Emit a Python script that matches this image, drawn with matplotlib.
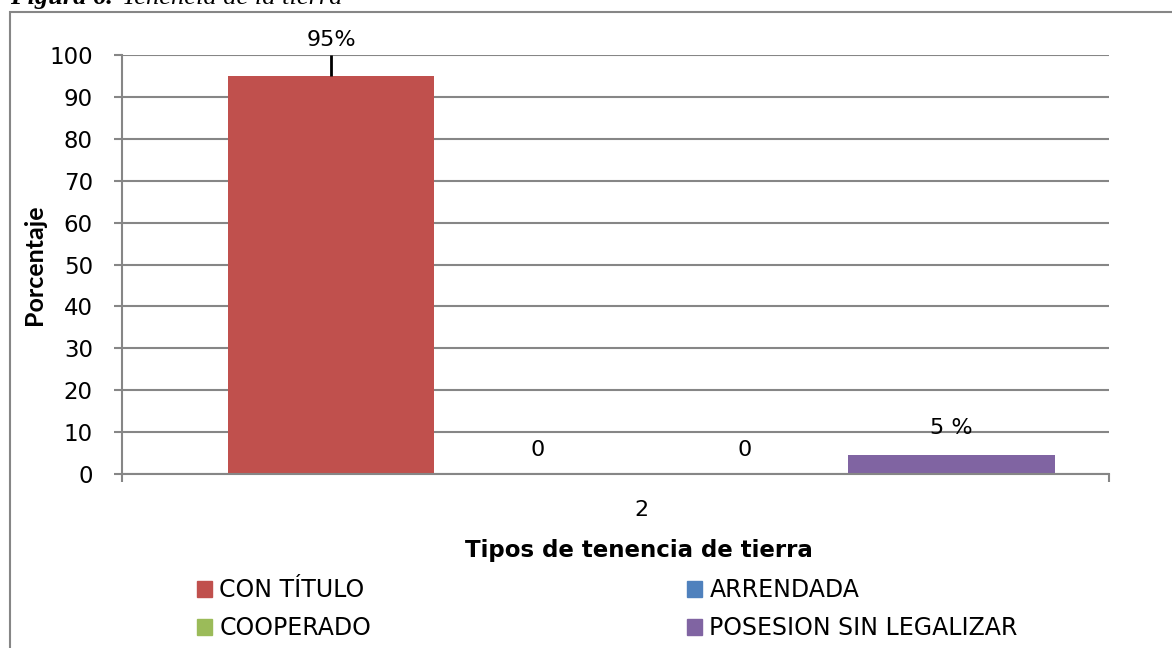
import matplotlib
matplotlib.use("Agg")
import matplotlib.pyplot as plt
from matplotlib.patches import Rectangle, Patch

categorias = ["CON TÍTULO", "ARRENDADA", "COOPERADO", "POSESION SIN LEGALIZAR"]
valores = [95, 0, 0, 4.5]
etiquetas = ["95%", "0", "0", "5 %"]
error_sup = [5, 0, 0, 0]
colores = ["#C0504D", "#4F81BD", "#9BBB59", "#8064A2"]
grupo = "2"

plt.rcParams["font.family"] = ["DejaVu Sans"]
gris = "#868686"
fs = 16

fig = plt.figure(figsize=(11.72, 6.48), dpi=100)

# marco del grafico
fig.patches.append(Rectangle((10 / 1172, -0.1), 1.2, 1 - 12 / 648 + 0.1,
                             transform=fig.transFigure, fill=False,
                             edgecolor=gris, linewidth=1.5))
fig.text(10 / 1172, 1 - 4 / 648, "Figura 6.", family="Liberation Serif",
         style="italic", weight="bold", fontsize=19, va="baseline")
fig.text(122 / 1172, 1 - 4 / 648, "Tenencia de la tierra", family="Liberation Serif",
         style="italic", fontsize=19, va="baseline")

ax = fig.add_axes([122 / 1172, 1 - 474 / 648, 987 / 1172, 419 / 648])
ancho = 0.2095
n = len(categorias)
for i, (cat, v, c) in enumerate(zip(categorias, valores, colores)):
    x = (i - (n - 1) / 2) * ancho
    ax.bar(x, v, width=ancho, color=c, zorder=2)
    if error_sup[i] > 0:
        ax.errorbar(x, v, yerr=[[0], [error_sup[i]]], fmt="none",
                    ecolor="black", elinewidth=2, capsize=0, zorder=3)
    top = v + error_sup[i]
    off = 15 if error_sup[i] > 0 else (24 if v == 0 else 27)
    ax.annotate(etiquetas[i], (x, top), xytext=(0, off), textcoords="offset pixels",
                ha="center", va="center", fontsize=fs)

xmin, xmax = -0.526, 0.474
ax.set_xlim(xmin, xmax)
ax.set_ylim(0, 100)
ax.set_yticks(range(0, 101, 10))
ax.yaxis.grid(True, color=gris, linewidth=1.5)
ax.set_axisbelow(True)
ax.set_xticks([xmin, xmax])
ax.set_xticklabels(["", ""])
ax.set_xticks([0], minor=True)
ax.set_xticklabels([grupo], minor=True)
ax.tick_params(axis="x", which="major", length=6, width=1.5, color=gris)
ax.tick_params(axis="x", which="minor", length=0, pad=19, labelsize=fs)
ax.tick_params(axis="y", length=6, width=1.5, color=gris, labelsize=16.5, pad=15)
for s in ["top", "right"]:
    ax.spines[s].set_visible(False)
for s in ["left", "bottom"]:
    ax.spines[s].set_color(gris)
    ax.spines[s].set_linewidth(1.5)

ax.set_ylabel("Porcentaje", fontsize=18, weight="bold", family="Lato")
ax.yaxis.set_label_coords((35 - 122) / 987, 0.5)
ax.yaxis.label.set_va("center")
ax.set_xlabel("Tipos de tenencia de tierra", fontsize=16.5, weight="bold")
ax.xaxis.set_label_coords((639 - 122) / 987, (474 - 550) / 419)
ax.xaxis.label.set_va("center")

# leyenda en dos columnas
for cols, x0 in [([0, 2], 197), ([1, 3], 687)]:
    handles = [Patch(color=colores[i], label=categorias[i]) for i in cols]
    fig.legend(handles=handles, loc="center left", frameon=False,
               bbox_to_anchor=(x0 / 1172, 1 - 609 / 648), fontsize=17,
               handlelength=0.65, handleheight=0.65, handletextpad=0.3,
               labelspacing=0.6, borderaxespad=0, borderpad=0)

fig.savefig("out.png", dpi=100)
